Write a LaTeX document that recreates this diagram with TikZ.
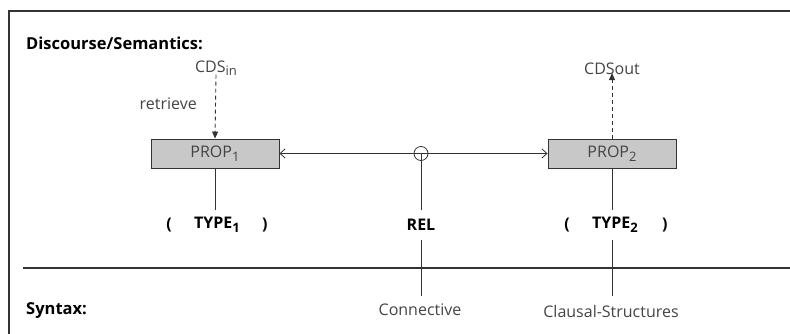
\documentclass[tikz,border=0pt]{standalone}
\usepackage{fontspec}
\setmainfont{Open Sans}
\usepackage{tikz}
\usetikzlibrary{positioning, arrows.meta}

\definecolor{inkgray}{HTML}{333333}
\definecolor{textgray}{HTML}{444444}
\definecolor{boxgray}{HTML}{C8C8C8}

% lowered index in the running font
\newcommand{\idx}[1]{\raisebox{-0.4ex}{\fontsize{13}{15}\selectfont #1}}

\begin{document}
\begin{tikzpicture}[
        x=1pt, y=-1pt,
        every node/.style={font=\fontsize{16}{19}\selectfont, text=textgray, inner sep=2pt},
        heading/.style={font=\fontsize{16.5}{19}\selectfont\bfseries, text=black, anchor=west},
        typelabel/.style={font=\fontsize{16}{19}\selectfont\bfseries, text=black},
        prop/.style={rectangle, draw=inkgray, fill=boxgray, line width=0.9pt, minimum width=128, minimum height=29, inner sep=0pt},
        frame/.style={draw=inkgray, line width=1.2pt},
        link/.style={draw=inkgray, line width=0.8pt, {Straight Barb[length=5pt, width=9pt]}-{Straight Barb[length=5pt, width=9pt]}},
        dashlink/.style={draw=inkgray, line width=0.9pt, dash pattern=on 4pt off 3pt, -{Triangle[length=7pt, width=6pt]}},
        stem/.style={draw=inkgray, line width=0.9pt}
        ]
        \useasboundingbox (0,0) rectangle (790,334);

        % Frame and separator
        \draw[frame] (9,334) -- (9,11) -- (790,11);
        \draw[frame] (23,268) -- (790,268);

        % Level headings
        \node[heading] (discourse) at (24,43) {Discourse/Semantics:};
        \node[heading] (syntax) at (24,311) {Syntax:};

        % Propositions
        \node[prop] (prop1) at (215,153.5) {PROP\idx{1}};
        \node[prop] (prop2) at (612,153.5) {PROP\idx{2}};

        % Discourse states
        \node (cdsin) at (216,68) {CDS\idx{in}};
        \node (cdsout) at (612,69) {CDSout};
        \node[anchor=east] (retrieve) at (199,104) {retrieve};

        % Relation marker
        \node[circle, draw=inkgray, line width=0.8pt, minimum size=14, inner sep=0pt] (conn) at (421,153.5) {};

        % Types and relation
        \node[typelabel] (type1) at (217,225) {TYPE\idx{1}};
        \node[typelabel, left=18 of type1] (lpar1) {(};
        \node[typelabel, right=18 of type1] (rpar1) {)};
        \node[typelabel] (rel) at (421,225) {REL};
        \node[typelabel] (type2) at (615,225) {TYPE\idx{2}};
        \node[typelabel, left=18 of type2] (lpar2) {(};
        \node[typelabel, right=20 of type2] (rpar2) {)};

        % Syntactic units
        \node (connective) at (420,310) {Connective};
        \node (clausal) at (611,311) {Clausal-Structures};

        % Links
        \draw[dashlink] ([yshift=3]cdsin.south) -- (prop1.north);
        \draw[dashlink] (prop2.north) -- ([yshift=4]cdsout.south);
        \draw[link] (prop1.east) -- (prop2.west);
        \draw[stem] (prop1.south) -- (prop1.south |- 0,210);
        \draw[stem] (conn.center) -- (conn.center |- 0,210);
        \draw[stem] (rel.center |- 0,240) -- (rel.center |- 0,296);
        \draw[stem] (prop2.south) -- (prop2.south |- 0,210);
        \draw[stem] (prop2.south |- 0,240) -- (prop2.south |- 0,296);

    \end{tikzpicture}
\end{document}
